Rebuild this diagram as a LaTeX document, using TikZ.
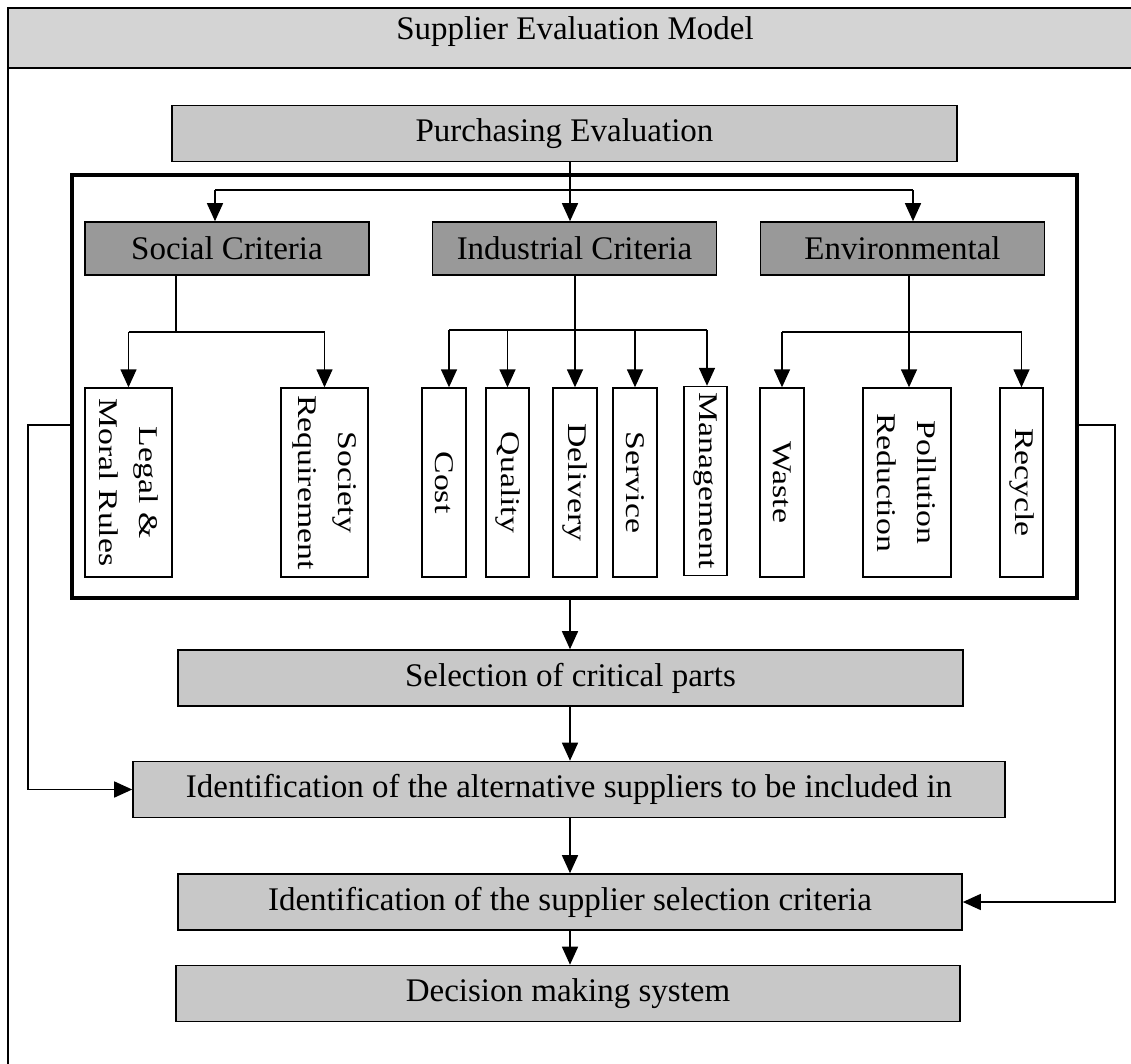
\documentclass[tikz,border=0pt]{standalone}
\usepackage{fontspec}
\setmainfont{Liberation Serif}
\newfontfamily\tallserif{Liberation Serif}[FakeStretch=1.25]
\usetikzlibrary{arrows.meta}
\definecolor{bandgray}{RGB}{212,212,212}
\definecolor{boxgray}{RGB}{200,200,200}
\definecolor{critgray}{RGB}{153,153,153}
\begin{document}
\begin{tikzpicture}[x=1pt,y=-1pt,
  wide/.style={draw, line width=1.6pt, fill=boxgray, minimum height=56pt, inner sep=0pt,
    font=\fontsize{33}{38}\selectfont},
  crit/.style={draw, line width=1.6pt, fill=critgray, minimum width=284pt, minimum height=53pt,
    inner sep=0pt, font=\fontsize{33}{38}\selectfont},
  sub/.style={draw, line width=1.4pt, fill=white, rotate=-90, minimum width=189pt, inner sep=0pt,
    align=center, font=\tallserif\fontsize{27}{40}\selectfont},
  frame/.style={draw, line width=4.5pt, minimum width=1005pt, minimum height=423pt, inner sep=0pt},
  link/.style={line width=1.5pt},
  arr/.style={line width=1.5pt, -{Triangle[length=18pt,width=16pt]}},
]
\useasboundingbox (0,0) rectangle (1131,1064);
\fill[white] (0,0) rectangle (1131,1064);

% outer page frame with its title band (cut off at the right and bottom)
\begin{scope}
  \clip (0,0) rectangle (1131,1064);
  \draw[line width=1.4pt, fill=bandgray] (8,8) rectangle (1160,68);
  \draw[line width=1.4pt] (8,68) -- (8,1090);
\end{scope}
\node[font=\fontsize{33}{38}\selectfont, anchor=base] (title) at (575,40) {Supplier Evaluation Model};

% main flow boxes
\node[wide, minimum width=785pt] (purch) at (564.5,133.5) {Purchasing Evaluation};
\node[frame] (crit) at (574.5,386.5) {};
\node[wide, minimum width=785pt] (select) at (570.5,678) {Selection of critical parts};
\node[wide, minimum width=872pt] (alt) at (569,789.5) {Identification of the alternative suppliers to be included in};
\node[wide, minimum width=784pt] (scrit) at (570,902) {Identification of the supplier selection criteria};
\node[wide, minimum width=784pt] (dms) at (568,993.5) {Decision making system};

% criteria groups
\node[crit] (social) at (227,248.5) {Social Criteria};
\node[crit] (indus) at (574.5,248.5) {Industrial Criteria};
\node[crit] (env) at (902.5,248.5) {Environmental};

% sub-criteria (text runs top to bottom)
\node[sub, minimum height=87pt] (legal) at (128.5,482.5) {Legal \&\\Moral Rules};
\node[sub, minimum height=87pt] (society) at (324.5,482.5) {Society\\Requirement};
\node[sub, minimum height=44pt] (cost) at (444,482.5) {Cost};
\node[sub, minimum height=43pt] (quality) at (507.5,482.5) {Quality};
\node[sub, minimum height=44pt] (delivery) at (575,482.5) {Delivery};
\node[sub, minimum height=44pt] (service) at (635,482.5) {Service};
\node[sub, minimum height=43pt] (manage) at (705.5,481) {Management};
\node[sub, minimum height=44pt] (waste) at (782,482.5) {Waste};
\node[sub, minimum height=88pt] (pollu) at (907,482.5) {Pollution\\Reduction};
\node[sub, minimum height=43pt] (recyc) at (1021.5,482.5) {Recycle};

% routing points
\coordinate (topbusL) at (215,190);
\coordinate (topbusR) at (913,190);
\coordinate (topmid) at (570,190);
\coordinate (sdrop) at (176,332);
\coordinate (sbusL) at (128.5,332);
\coordinate (sbusR) at (324.5,332);
\coordinate (ibusL) at (449,330);
\coordinate (ibusR) at (707,330);
\coordinate (edrop) at (909,332);
\coordinate (ebusL) at (782,332);
\coordinate (ebusR) at (1021.5,332);
\coordinate (lside) at (28,425);
\coordinate (rside) at (1115,425);

% purchasing evaluation to the three criteria
\draw[link] (purch.south -| topmid) -- (topmid);
\draw[link] (topbusL) -- (topbusR);
\draw[arr] (topbusL) -- (topbusL |- social.north);
\draw[arr] (topmid) -- (topmid |- indus.north);
\draw[arr] (topbusR) -- (topbusR |- env.north);

% social branch
\draw[link] (sdrop |- social.south) -- (sdrop);
\draw[link] (sbusL) -- (sbusR);
\draw[arr] (sbusL) -- (legal);
\draw[arr] (sbusR) -- (society);

% industrial branch
\draw[link] (ibusL) -- (ibusR);
\draw[arr] (indus.south -| delivery) -- (delivery);
\draw[arr] (ibusL) -- (ibusL |- cost.west);
\draw[arr] (ibusL -| quality) -- (quality);
\draw[arr] (ibusL -| service) -- (service);
\draw[arr] (ibusR) -- (ibusR |- manage.west);

% environmental branch
\draw[link] (edrop |- env.south) -- (edrop);
\draw[link] (ebusL) -- (ebusR);
\draw[arr] (ebusL) -- (waste);
\draw[arr] (edrop) -- (edrop |- pollu.west);
\draw[arr] (ebusR) -- (recyc);

% main sequence
\draw[arr] (crit.south -| topmid) -- (topmid |- select.north);
\draw[arr] (select.south -| topmid) -- (topmid |- alt.north);
\draw[arr] (alt.south -| topmid) -- (topmid |- scrit.north);
\draw[arr] (scrit.south -| topmid) -- (topmid |- dms.north);

% side feedback lines
\draw[arr] (crit.west |- lside) -- (lside) |- (alt.west);
\draw[arr] (crit.east |- rside) -- (rside) |- (scrit.east);
\end{tikzpicture}
\end{document}
